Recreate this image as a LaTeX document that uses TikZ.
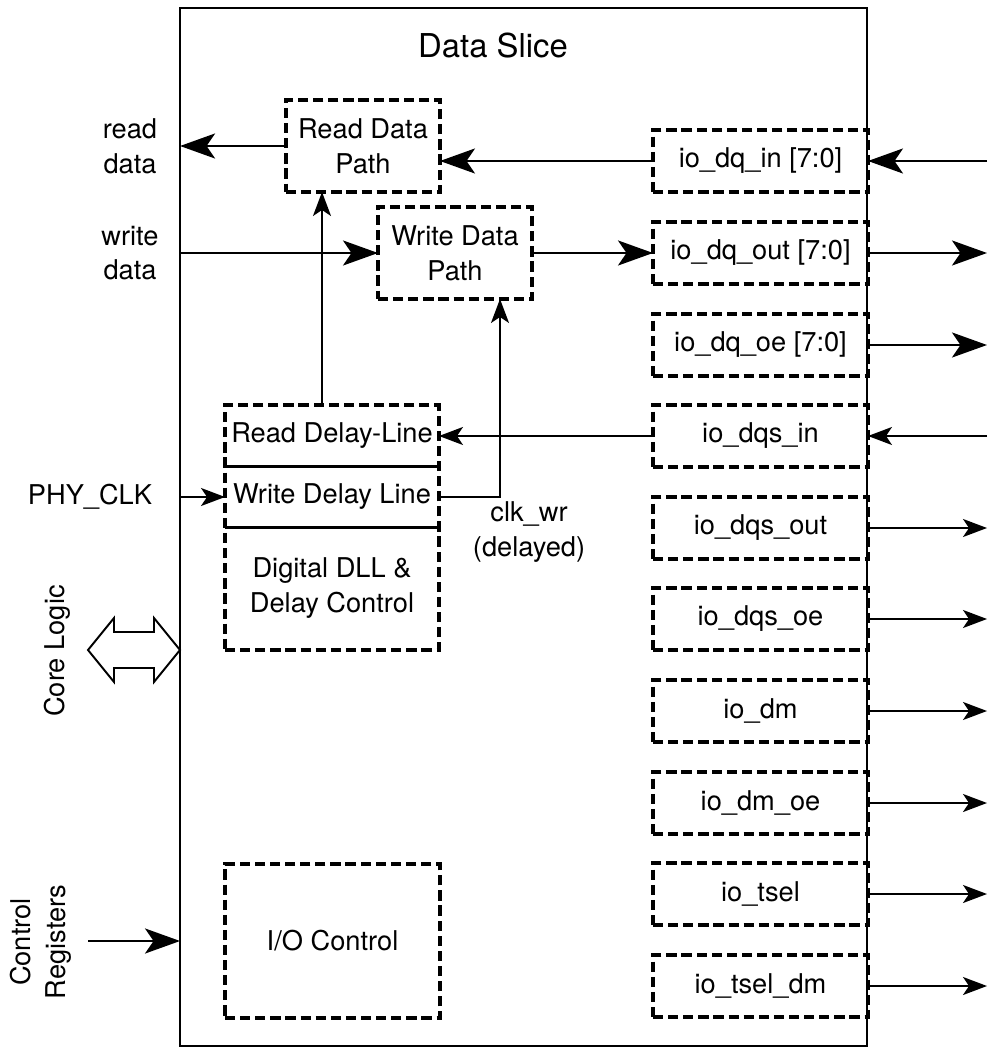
\documentclass[tikz,border=0pt]{standalone}
\usepackage{fontspec}
\setmainfont{TeX Gyre Heros}
\usepackage{tikz}
\usetikzlibrary{arrows.meta}

\begin{document}
\begin{tikzpicture}[
  x=0.02cm, y=-0.02cm,
  txt/.style      = {font=\fontsize{15.5}{19.8}\selectfont, align=center},
  slicebox/.style = {draw=black, line width=0.85pt, minimum width=13.74cm,
                     minimum height=20.76cm, outer sep=0pt, inner sep=0pt},
  dbox/.style     = {txt, draw=black, line width=1.8pt, dash pattern=on 5.8pt off 2.8pt,
                     outer sep=0pt, inner sep=0pt},
  iobox/.style    = {dbox, minimum width=4.3cm, minimum height=1.24cm},
  pathbox/.style  = {dbox, minimum width=3.08cm, minimum height=1.84cm},
  dlbox/.style    = {txt, minimum width=4.28cm, minimum height=1.22cm,
                     outer sep=0pt, inner sep=0pt},
  bus/.style      = {line width=1.5pt, -{Stealth[length=0.7cm, width=0.5cm, inset=0.17cm]}},
  sig/.style      = {line width=1pt, -{Stealth[length=0.48cm, width=0.36cm, inset=0.12cm]}},
]

\useasboundingbox (0,0) rectangle (987,1047);

\node[slicebox] (slice) at (523.5,527) {};
\node[font=\fontsize{18.7}{22}\selectfont] (title) at (493,46) {Data Slice};

\foreach \nm/\lbl/\y in {dqin/{io\_dq\_in [7:0]}/161, dqout/{io\_dq\_out [7:0]}/253,
                         dqoe/{io\_dq\_oe [7:0]}/345, dqsin/io\_dqs\_in/436,
                         dqsout/io\_dqs\_out/528, dqsoe/io\_dqs\_oe/619,
                         dm/io\_dm/711, dmoe/io\_dm\_oe/803,
                         tsel/io\_tsel/894, tseldm/io\_tsel\_dm/986}{
  \node[iobox] (\nm) at (760.5,\y) {\lbl};
  \coordinate (\nm-pin) at (987,\y);
}

\node[pathbox] (rdp) at (363,146) {Read Data\\Path};
\node[pathbox] (wdp) at (455,253) {Write Data\\Path};

\node[dbox, minimum width=4.28cm, minimum height=4.9cm] (dll) at (332,527.5) {};
\node[dlbox] (rdl) at (332,436) {Read Delay-Line};
\node[dlbox] (wdl) at (332,497) {Write Delay Line};
\node[txt] (dllctl) at (332,588) {Digital DLL \&\\Delay Control};
\draw[line width=1.4pt] (wdl.north west) -- (wdl.north east);
\draw[line width=1.4pt] (wdl.south west) -- (wdl.south east);

\node[dbox, minimum width=4.3cm, minimum height=3.08cm] (ioctl) at (332.5,941) {I/O Control};

\node[txt] (rdlbl) at (130,146) {read\\data};
\node[txt] (wrlbl) at (130,253) {write\\data};
\node[txt] (phy) at (90,497) {PHY\_CLK};
\node[txt] (clkwr) at (529,532) {clk\_wr\\(delayed)};
\node[txt, rotate=90] (core) at (57,651) {Core Logic};
\node[txt, rotate=90] (ctrl) at (41,942) {Control\\Registers};
\coordinate (ctrlin) at (88,941);

\draw[line width=1.1pt, fill=white] (88,650) -- (114,618) -- (114,632) -- (154,632)
  -- (154,618) -- (180,650) -- (154,682) -- (154,668) -- (114,668) -- (114,682) -- cycle;

\draw[bus] (rdp.west) -- (rdp.west -| slice.west);
\draw[bus] (wdp.west -| slice.west) -- (wdp.west);
\draw[bus] (dqin.west) -- (dqin.west -| rdp.east);
\draw[bus] (wdp.east) -- (dqout.west);
\draw[bus] (ctrlin) -- (ctrlin -| slice.west);

\draw[sig] (dqsin.west) -- (rdl.east);
\draw[sig] ([xshift=-0.2cm]rdl.north) -- ([xshift=-0.2cm]rdl.north |- rdp.south);
\draw[sig] (wdl.east) -| ([xshift=0.9cm]wdp.south);
\draw[sig] (slice.west |- wdl.west) -- (wdl.west);

\draw[bus] (dqin-pin) -- (dqin.east);
\draw[bus] (dqout.east) -- (dqout-pin);
\draw[bus] (dqoe.east) -- (dqoe-pin);
\draw[sig] (dqsin-pin) -- (dqsin.east);
\foreach \nm in {dqsout, dqsoe, dm, dmoe, tsel, tseldm}
  \draw[sig] (\nm.east) -- (\nm-pin);

\end{tikzpicture}
\end{document}
